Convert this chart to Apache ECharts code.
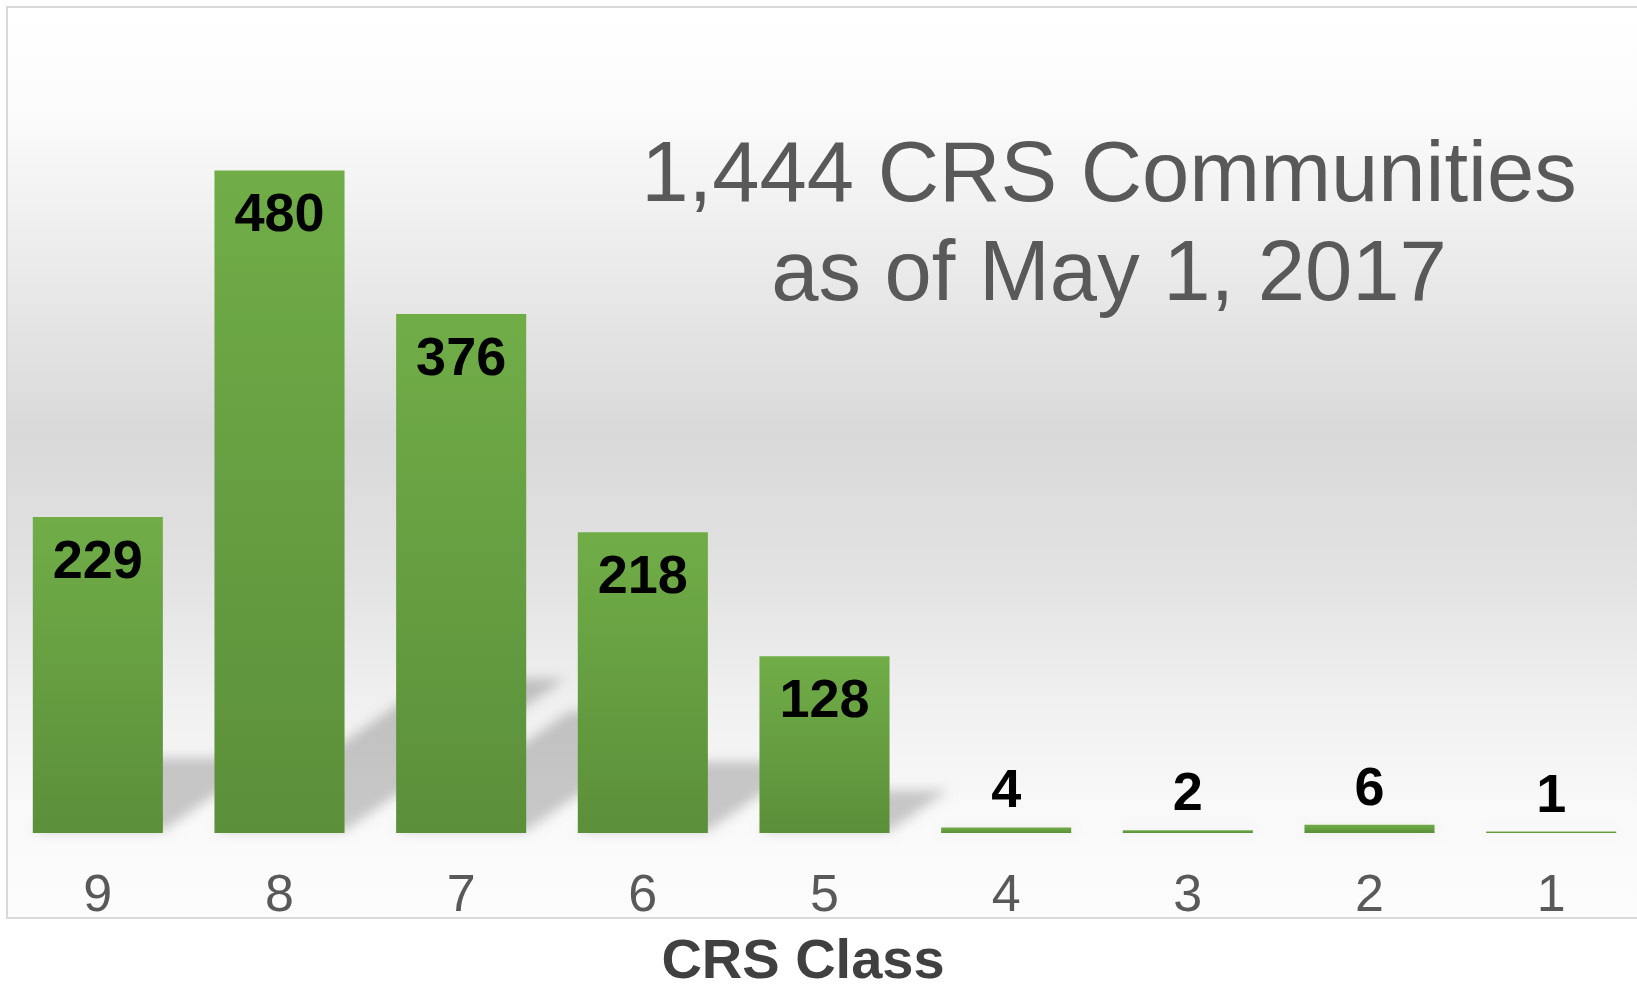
<!DOCTYPE html>
<html>
<head>
<meta charset="utf-8">
<title>CRS Communities</title>
<script src="https://cdn.jsdelivr.net/npm/echarts@6/dist/echarts.min.js"></script>
<style>
  html, body { margin: 0; padding: 0; background: #fff; }
  #chart { width: 1637px; height: 989px; }
</style>
</head>
<body>
<div id="chart"></div>
<script>
// CRS class counts, May 1, 2017
var classes = ["9", "8", "7", "6", "5", "4", "3", "2", "1"];
var counts = [229, 480, 376, 218, 128, 4, 2, 6, 1];
var titleLines = ["1,444 CRS Communities", "as of May 1, 2017"];
var axisTitle = "CRS Class";

var font = "Liberation Sans, Arial, sans-serif";
var grey = "#595959";

var barData = counts.map(function (v) {
  // short bars get the number above, tall ones inside the top
  return v < 50
    ? { value: v, label: { position: "top", distance: 8 } }
    : { value: v, label: { position: "insideTop", distance: 19 } };
});
var shadowData = counts.map(function (v, i) { return [i, v]; });

// floor shadow leaning back to the right; the shape is drawn far off to the
// left and only its blurred canvas shadow is moved back into place
var OFF = 3000;
function drawShadow(params, api) {
  var idx = api.value(0), v = api.value(1);
  var base = api.coord([idx, 0]);
  var bw = api.size([1, 0])[0] * 0.716;
  var h = base[1] - api.coord([idx, v])[1];
  var hs = h * 0.23, dx = hs * 1.45;
  var x0 = base[0] - bw / 2 - OFF, x1 = base[0] + bw / 2 - OFF, y = base[1] - 2;
  return {
    type: "polygon",
    shape: { points: [[x0, y], [x1, y], [x1 + dx, y - hs], [x0 + dx, y - hs]] },
    style: {
      fill: "#000",
      shadowColor: "rgba(0,0,0,0.2)",
      shadowBlur: 12,
      shadowOffsetX: OFF,
      shadowOffsetY: 0
    }
  };
}

var chart = echarts.init(document.getElementById("chart"));
chart.setOption({
  backgroundColor: "#fff",
  animation: false,
  title: {
    text: titleLines.join("\n"),
    left: 1109,
    top: 128,
    textAlign: "center",
    padding: 0,
    textStyle: { fontFamily: font, fontSize: 85, lineHeight: 99, fontWeight: "normal", color: grey }
  },
  graphic: [{
    type: "rect",
    z: -10,
    silent: true,
    shape: { x: 7, y: 7, width: 1640, height: 911 },
    style: {
      fill: new echarts.graphic.LinearGradient(0, 0, 0, 1, [
        { offset: 0, color: "#ffffff" },
        { offset: 0.12, color: "#fbfbfb" },
        { offset: 0.28, color: "#ebebeb" },
        { offset: 0.47, color: "#d9d9d9" },
        { offset: 0.62, color: "#e2e2e2" },
        { offset: 0.75, color: "#efefef" },
        { offset: 0.88, color: "#f9f9f9" },
        { offset: 1, color: "#fcfcfc" }
      ]),
      stroke: "#d9d9d9",
      lineWidth: 2
    }
  }],
  grid: { left: 7, width: 1635, top: 5, height: 828, outerBoundsMode: "none", containLabel: false },
  xAxis: {
    type: "category",
    data: classes,
    axisLine: { show: false },
    axisTick: { show: false },
    axisLabel: { margin: 38, fontFamily: font, fontSize: 52, color: grey },
    name: axisTitle,
    nameLocation: "middle",
    nameGap: 102,
    nameTextStyle: { fontFamily: font, fontSize: 56, fontWeight: "bold", color: "#404040", padding: [0, 43, 0, 0] }
  },
  yAxis: { type: "value", min: 0, max: 600, show: false, splitLine: { show: false } },
  series: [
    {
      type: "custom",
      z: 1,
      silent: true,
      clip: false,
      renderItem: drawShadow,
      encode: { x: 0, y: 1 },
      data: shadowData
    },
    {
      type: "bar",
      z: 3,
      data: barData,
      barCategoryGap: "28.4%",
      itemStyle: {
        color: new echarts.graphic.LinearGradient(0, 0, 0, 1, [
          { offset: 0, color: "#70ad47" },
          { offset: 1, color: "#5b8f3a" }
        ])
      },
      label: { show: true, fontFamily: font, fontSize: 54, fontWeight: "bold", color: "#000" }
    }
  ]
});
</script>
</body>
</html>
